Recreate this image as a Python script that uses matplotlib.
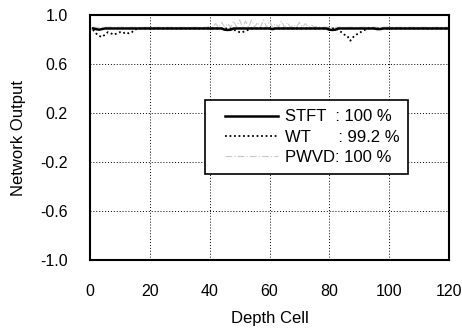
import matplotlib
matplotlib.use("Agg")
import matplotlib.pyplot as plt
from matplotlib.patches import Rectangle

plt.rcParams['font.family'] = ['Liberation Sans', 'DejaVu Sans']

depth = list(range(1, 121))

stft = [0.89]*120
for i, v in [(2, 0.885), (3, 0.88), (4, 0.885), (45, 0.88), (46, 0.878), (47, 0.88),
             (61, 0.885), (80, 0.88), (81, 0.878), (82, 0.88), (96, 0.885), (97, 0.885)]:
    stft[i-1] = v

wt = [0.88, 0.85, 0.83, 0.82, 0.84, 0.86, 0.85, 0.84, 0.85, 0.86,
      0.85, 0.86, 0.85, 0.86, 0.88] + [0.89]*105
for i, v in [(48, 0.88), (49, 0.87), (50, 0.86), (51, 0.86), (52, 0.87), (53, 0.88),
             (83, 0.88), (84, 0.86), (85, 0.84), (86, 0.83), (87, 0.79), (88, 0.82),
             (89, 0.84), (90, 0.85), (91, 0.87), (92, 0.88)]:
    wt[i-1] = v

pwvd = [0.90]*120
for i, v in [(40, 0.91), (42, 0.93), (44, 0.94), (46, 0.93), (48, 0.95), (50, 0.96), (52, 0.95),
             (54, 0.96), (56, 0.94), (58, 0.96), (60, 0.95), (62, 0.93), (64, 0.95), (66, 0.94),
             (68, 0.92), (70, 0.94), (72, 0.93), (74, 0.92), (76, 0.91)]:
    pwvd[i-1] = v

labels = ["STFT  : 100 %", "WT      : 99.2 %", "PWVD: 100 %"]
xticks = [0, 20, 40, 60, 80, 100, 120]
yticks = [1.0, 0.6, 0.2, -0.2, -0.6, -1.0]

fig = plt.figure(figsize=(4.62, 3.35), dpi=100)
L, R, T, B = 90, 449, 15, 260
ax = fig.add_axes([L/462, 1-B/335, (R-L)/462, (B-T)/335])

ax.plot(depth, pwvd, color='#c8c8c8', lw=0.8, ls=(0, (6, 2, 1, 2)), label=labels[2], zorder=2)
ax.plot(depth, wt, color='black', lw=1.3, ls=(0, (1, 1.5)), label=labels[1], zorder=3)
ax.plot(depth, stft, color='black', lw=1.8, label=labels[0], zorder=4)

ax.set_xlim(0, 120)
ax.set_ylim(-1.0, 1.0)
ax.set_xticks(xticks)
ax.set_yticks(yticks)
ax.set_yticklabels([f"{v:.1f}" for v in yticks])
ax.grid(True, color='black', ls=(0, (1, 2)), lw=0.7)
ax.tick_params(length=0, labelsize=11.5)
ax.tick_params(axis='x', pad=17)
ax.tick_params(axis='y', pad=16)
for s in ax.spines.values():
    s.set_linewidth(1.5)

ax.set_xlabel("Depth Cell", fontsize=12, labelpad=9)
ax.set_ylabel("Network Output", fontsize=12, labelpad=10)

h, l = ax.get_legend_handles_labels()
order = [2, 1, 0]
leg = ax.legend([h[i] for i in order], [l[i] for i in order], loc='lower left',
                bbox_to_anchor=((225-L)/(R-L), (B-165)/(B-T)), frameon=False,
                fontsize=12, handlelength=3.2, borderpad=0, labelspacing=0.32,
                handletextpad=0.42, borderaxespad=0)
leg.set_zorder(6)

fig.canvas.draw()
bb = leg.get_window_extent()
x0, y0 = bb.x0 - 20, bb.y0 - 9
x1, y1 = bb.x1 + 8, bb.y1 + 9
frame = Rectangle((x0, y0), x1 - x0, y1 - y0, transform=None, facecolor='white',
                  edgecolor='black', lw=1.2, zorder=5)
ax.add_artist(frame)

fig.savefig("out.png", dpi=100)
